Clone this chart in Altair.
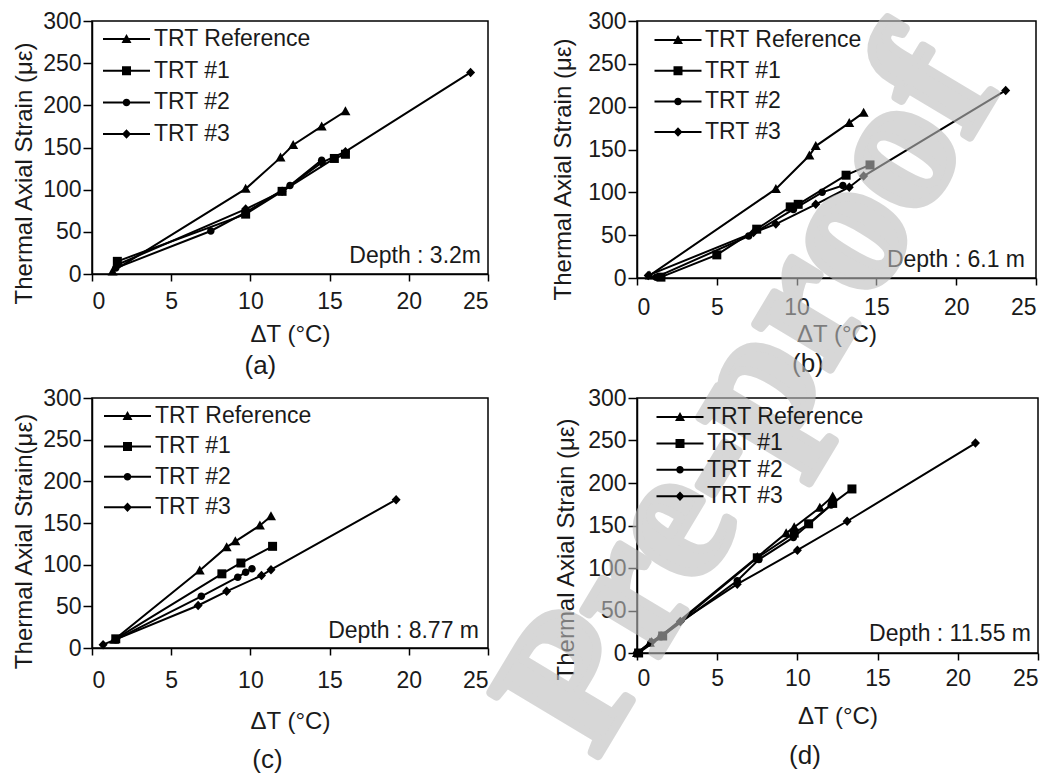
import altair as alt
import pandas as pd

SERIES = ["TRT Reference", "TRT #1", "TRT #2", "TRT #3"]

# ---- panel (a) depth 3.2 m ----
A_REF_X = [1.3, 9.7, 11.9, 12.7, 14.5, 16.0]
A_REF_Y = [3, 101, 138, 153, 175, 193]
A_1_X = [1.6, 9.7, 12.0, 15.3, 16.0]
A_1_Y = [15, 71, 98, 137, 142]
A_2_X = [1.5, 7.5, 9.7, 12.5, 14.5]
A_2_Y = [7, 51, 73, 105, 135]
A_3_X = [1.6, 9.7, 12.0, 14.5, 16.0, 23.9]
A_3_Y = [11, 77, 98, 132, 145, 239]

# ---- panel (b) depth 6.1 m ----
B_REF_X = [0.8, 8.7, 10.8, 11.2, 13.3, 14.2]
B_REF_Y = [3, 104, 143, 154, 181, 193]
B_1_X = [1.5, 5.0, 7.5, 9.6, 10.1, 13.1, 14.6]
B_1_Y = [1, 27, 57, 83, 86, 120, 132]
B_2_X = [1.2, 7.0, 9.8, 11.6, 12.9]
B_2_Y = [1, 49, 80, 100, 108]
B_3_X = [0.7, 7.3, 8.7, 11.2, 13.3, 14.2, 23.1]
B_3_Y = [3, 53, 63, 86, 106, 119, 219]

# ---- panel (c) depth 8.77 m ----
C_REF_X = [1.4, 6.8, 8.5, 9.05, 10.6, 11.3]
C_REF_Y = [10, 93, 121, 128, 147, 158]
C_1_X = [1.5, 8.2, 9.4, 11.4]
C_1_Y = [11, 89, 102, 122]
C_2_X = [1.5, 6.9, 9.2, 9.7, 10.1]
C_2_Y = [10, 62, 85, 91, 95]
C_3_X = [0.7, 6.7, 8.5, 10.7, 11.3, 19.2]
C_3_Y = [4, 51, 68, 87, 94, 178]

# ---- panel (d) depth 11.55 m ----
D_REF_X = [0.0, 0.8, 1.5, 7.5, 9.3, 9.8, 11.4, 12.2]
D_REF_Y = [0, 12, 20, 113, 141, 148, 171, 184]
D_1_X = [0.1, 1.6, 7.5, 9.8, 10.7, 12.2, 13.4]
D_1_Y = [0, 20, 112, 141, 152, 176, 193]
D_2_X = [0.0, 1.5, 6.25, 7.6, 9.75, 12.1]
D_2_Y = [0, 19, 85, 110, 136, 174]
D_3_X = [0.0, 0.9, 2.7, 6.25, 10.0, 13.1, 21.1]
D_3_Y = [0, 13, 37, 81, 121, 155, 247]

X_TICKS = [0, 5, 10, 15, 20, 25]
Y_TICKS = [0, 50, 100, 150, 200, 250, 300]
WATERMARK = ["Pre-proof"]

FONT = "Liberation Sans"
INK = "#1a1a1a"

# marker shapes for the data points
MARKS = [
    "M0,-1L1,0.8H-1Z",
    "M-0.9,-0.9H0.9V0.9H-0.9Z",
    "M0.75,0A0.75,0.75,0,1,1,-0.75,0A0.75,0.75,0,1,1,0.75,0Z",
    "M0,-0.95L0.9,0L0,0.95L-0.9,0Z",
]
# legend symbols: a thin bar (line sample) with the marker on it
BAR = "M-4.7,-0.2H4.7V0.2H-4.7Z"
LEG_SHAPES = [BAR + m for m in MARKS]


def make_df(xs_list, ys_list):
    rows = []
    for s, xs, ys in zip(SERIES, xs_list, ys_list):
        for i, (x, y) in enumerate(zip(xs, ys)):
            rows.append({"series": s, "idx": i, "dT": x, "strain": y})
    return pd.DataFrame(rows)


def panel(df, depth, caption, ytitle, p, watermark=False):
    w, h = p["w"], p["h"]
    xax = alt.Axis(values=X_TICKS, title="ΔT (°C)", grid=False, tickSize=7,
                   labelPadding=p["lp"], titlePadding=p["tp"])
    yax = alt.Axis(values=Y_TICKS, title=ytitle, grid=False, tickSize=9,
                   labelPadding=2, titleX=p["tx"], titleY=p["ty"],
                   titleBaseline="middle", titleAlign="center")
    base = alt.Chart(df).encode(
        x=alt.X("dT:Q", scale=alt.Scale(domain=[0, 25], nice=False), axis=xax),
        y=alt.Y("strain:Q", scale=alt.Scale(domain=[0, 300], nice=False), axis=yax),
    )
    layers = [base.mark_line(color="black", strokeWidth=2).encode(
        detail="series:N", order="idx:Q")]
    for s, m in zip(SERIES, MARKS):
        layers.append(
            base.transform_filter(alt.datum.series == s).mark_point(
                shape=m, filled=True, color="black", opacity=1, size=100,
                strokeWidth=0)
        )
    # legend-only layer (no rows pass the filter; entries come from the domain)
    layers.append(
        base.transform_filter("false").mark_point(
            filled=True, color="black", opacity=1, size=100).encode(
            shape=alt.Shape(
                "series:N",
                scale=alt.Scale(domain=SERIES, range=LEG_SHAPES),
                legend=alt.Legend(
                    title=None, orient="none", legendX=p["lx"], legendY=p["ly"],
                    labelFontSize=23, labelFont=FONT, labelColor=INK, labelLimit=400,
                    symbolSize=100, symbolFillColor="black", symbolStrokeWidth=0,
                    symbolOpacity=1, labelOffset=p["lo"], rowPadding=p["rp"],
                    padding=0),
            )
        )
    )
    layers.append(
        alt.Chart(pd.DataFrame({"t": [depth]})).mark_text(
            align="right", baseline="middle", fontSize=23, font=FONT, color=INK
        ).encode(x=alt.value(w - p["dx"]), y=alt.value(h - p["dy"]), text="t:N")
    )
    props = dict(width=w, height=h)
    if watermark:
        # caption as a text mark (the watermark enlarges this panel's bounds)
        layers.append(
            alt.Chart(pd.DataFrame({"t": [caption]})).mark_text(
                align="center", baseline="middle", fontSize=26, font=FONT, color=INK
            ).encode(x=alt.value(p["cx"]), y=alt.value(p["cy"]), text="t:N")
        )
        layers.append(
            alt.Chart(pd.DataFrame({"t": WATERMARK})).mark_text(
                align="center", baseline="middle", fontSize=190,
                font="Liberation Serif", fontWeight="bold", color="#bdbdbd",
                stroke="#bdbdbd", strokeWidth=9, strokeJoin="round",
                opacity=0.6, angle=301
            ).encode(x=alt.value(p["wx"]), y=alt.value(p["wy"]), text="t:N")
        )
    else:
        props["title"] = alt.TitleParams(
            caption, orient="bottom", frame="bounds", fontSize=26, font=FONT,
            fontWeight="normal", color=INK, offset=p["co"], dx=p["cdx"])
    return alt.layer(*layers).properties(**props)


PA = dict(w=396, h=253, lp=9, tp=9, tx=-68, ty=152, lx=23, ly=6.5, lo=16, rp=7.7,
          dx=7, dy=18, co=7, cdx=10)
PB = dict(w=399, h=257, lp=11, tp=3, tx=-74, ty=148, lx=29.5, ly=7.5, lo=15.5, rp=6.7,
          dx=11, dy=18, co=5, cdx=14)
PC = dict(w=396, h=250, lp=14, tp=17, tx=-68, ty=143, lx=24, ly=6.5, lo=16, rp=6.4,
          dx=9, dy=17, co=14, cdx=17)
PD = dict(w=401, h=255, lp=7, tp=14, tx=-71, ty=151, lx=31.5, ly=7.5, lo=15.5, rp=2.4,
          dx=7, dy=19, cx=168, cy=358, wx=112, wy=-4)

pa = panel(make_df([A_REF_X, A_1_X, A_2_X, A_3_X], [A_REF_Y, A_1_Y, A_2_Y, A_3_Y]),
           "Depth : 3.2m", "(a)", "Thermal Axial Strain (με)", PA)
pb = panel(make_df([B_REF_X, B_1_X, B_2_X, B_3_X], [B_REF_Y, B_1_Y, B_2_Y, B_3_Y]),
           "Depth : 6.1 m", "(b)", "Thermal Axial Strain (με)", PB)
pc = panel(make_df([C_REF_X, C_1_X, C_2_X, C_3_X], [C_REF_Y, C_1_Y, C_2_Y, C_3_Y]),
           "Depth : 8.77 m", "(c)", "Thermal Axial Strain(με)", PC)
pd_ = panel(make_df([D_REF_X, D_1_X, D_2_X, D_3_X], [D_REF_Y, D_1_Y, D_2_Y, D_3_Y]),
            "Depth : 11.55 m", "(d)", "Thermal Axial Strain (με)", PD, watermark=True)

chart = alt.concat(pa, pb, pc, pd_, columns=2, bounds="flush",
                   spacing={"row": 120, "column": 149}).resolve_scale(
    shape="independent"
).properties(
    padding={"left": 3, "top": 0, "right": 5, "bottom": 0},
    background="white",
).configure_view(
    stroke="black", strokeWidth=1.5
).configure_axis(
    domainColor="black", domainWidth=1.5, tickColor="black", tickWidth=1.5,
    labelFont=FONT, labelFontSize=23, labelColor=INK,
    titleFont=FONT, titleFontSize=24, titleFontWeight="normal", titleColor=INK,
)

chart.save("out.html", embed_options={"renderer": "svg", "actions": False})
